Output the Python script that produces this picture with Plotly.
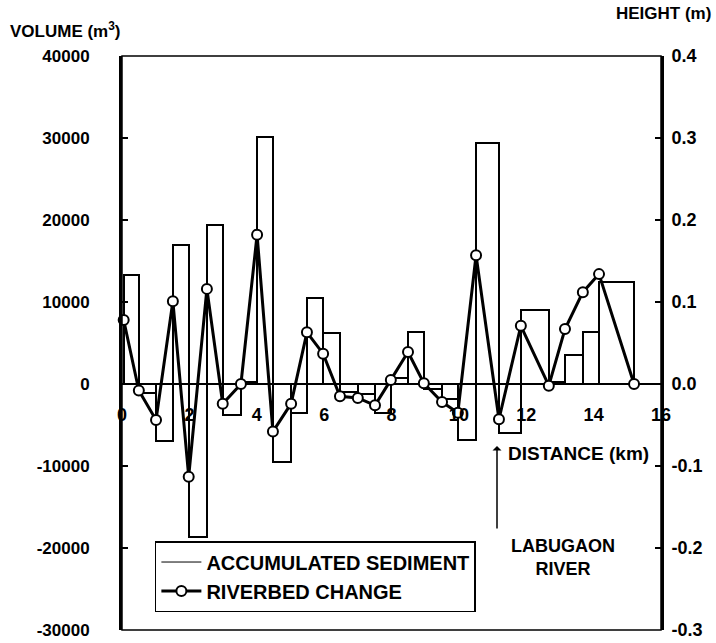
import plotly.graph_objects as go

# ---- data ----
distance_km = [0.05, 0.50, 1.01, 1.51, 1.98, 2.52, 2.99, 3.53, 4.01, 4.48, 5.02, 5.49,
               5.97, 6.47, 7.00, 7.51, 7.98, 8.49, 8.96, 9.50, 9.97, 10.51, 11.19,
               11.84, 12.67, 13.15, 13.68, 14.16, 15.20]
riverbed_change_m = [0.078, -0.008, -0.044, 0.101, -0.113, 0.116, -0.024, 0.0, 0.182,
                     -0.058, -0.024, 0.063, 0.037, -0.015, -0.017, -0.026, 0.005, 0.039,
                     0.001, -0.022, -0.035, 0.157, -0.043, 0.071, -0.002, 0.067, 0.112,
                     0.134, 0.0]
accumulated_sediment_m3 = [13300, -1100, -7000, 17000, -18600, 19400, -3800, 300, 30100,
                           -9500, -3500, 10500, 6200, -1000, -1200, -3500, 700, 6300,
                           -600, -1800, -6800, 29400, -6000, 9000, 200, 3500, 6300, 12400]

x_ticks = [0, 2, 4, 6, 8, 10, 12, 14, 16]
vol_ticks = [-30000, -20000, -10000, 0, 10000, 20000, 30000, 40000]
vol_labels = ["-30000", "-20000", "-10000", "0", "10000", "20000", "30000", "40000"]
h_ticks = [-0.3, -0.2, -0.1, 0.0, 0.1, 0.2, 0.3, 0.4]
h_labels = ["-0.3", "-0.2", "-0.1", "0.0", "0.1", "0.2", "0.3", "0.4"]

# bars span each segment between consecutive survey points
bar_x = [(a + b) / 2 for a, b in zip(distance_km[:-1], distance_km[1:])]
bar_w = [b - a for a, b in zip(distance_km[:-1], distance_km[1:])]

FONT = "Liberation Sans, Arial, sans-serif"

fig = go.Figure()
fig.add_trace(go.Bar(
    x=bar_x, y=accumulated_sediment_m3, width=bar_w,
    marker=dict(color="white", line=dict(color="black", width=2)),
    showlegend=False, yaxis="y"))
# legend entry (line symbol) for the sediment bars
fig.add_trace(go.Scatter(
    x=[None], y=[None], mode="lines", name="<b>ACCUMULATED SEDIMENT</b>",
    line=dict(color="black", width=1)))
fig.add_trace(go.Scatter(
    x=distance_km, y=riverbed_change_m, yaxis="y2", mode="lines+markers",
    name="<b>RIVERBED CHANGE</b>", cliponaxis=False,
    line=dict(color="black", width=3),
    marker=dict(symbol="circle", size=10, color="white",
                line=dict(color="black", width=2))))

zero_pos = 30000 / 70000

fig.update_layout(
    width=716, height=643,
    margin=dict(l=122, r=55, t=56, b=13, autoexpand=False),
    paper_bgcolor="white", plot_bgcolor="white",
    font=dict(family=FONT, size=17, color="black"),
    bargap=0,
    xaxis=dict(range=[0, 16], tickvals=x_ticks,
               ticktext=["<b>%d</b>" % t for t in x_ticks],
               anchor="free", position=zero_pos, showline=False, showgrid=False,
               zeroline=False, ticks="", ticklabelstandoff=18, automargin=False,
               tickfont=dict(size=18)),
    yaxis=dict(range=[-30000, 40000], tickvals=vol_ticks,
               ticktext=["<b>%s</b>" % s for s in vol_labels],
               showline=True, linecolor="black", linewidth=3, ticks="inside",
               ticklen=6, tickwidth=2, tickcolor="black", showgrid=False,
               zeroline=True, zerolinecolor="black", zerolinewidth=1.5,
               ticklabelstandoff=26, automargin=False,
               tickfont=dict(size=17)),
    yaxis2=dict(range=[-0.3, 0.4], tickvals=h_ticks,
                ticktext=["<b>%s</b>" % s for s in h_labels],
                overlaying="y", side="right", showline=True, linecolor="black",
                linewidth=3, ticks="inside", ticklen=6, tickwidth=2,
                tickcolor="black", showgrid=False, zeroline=False,
                ticklabelstandoff=4, automargin=False,
                tickfont=dict(size=18)),
    legend=dict(x=0.061, y=0.155, xanchor="left", yanchor="top",
                bgcolor="white", bordercolor="black", borderwidth=1.5,
                font=dict(size=20), tracegroupgap=0, itemwidth=40),
    shapes=[dict(type="rect", xref="paper", yref="paper", x0=0, x1=1, y0=0, y1=1,
                 line=dict(color="black", width=1.5), layer="above")],
    annotations=[
        dict(text="<b>VOLUME (m<sup>3</sup>)</b>", xref="paper", yref="paper",
             x=(65 - 122) / 539, y=(630 - 30) / 574, xanchor="center", yanchor="middle",
             showarrow=False, font=dict(size=17)),
        dict(text="<b>HEIGHT (m)</b>", xref="paper", yref="paper",
             x=(663 - 122) / 539, y=(630 - 14) / 574, xanchor="center", yanchor="middle",
             showarrow=False, font=dict(size=17)),
        dict(text="<b>DISTANCE (km)</b>", xref="paper", yref="paper",
             x=(506 - 122) / 539, y=(630 - 453) / 574, xanchor="left", yanchor="middle",
             showarrow=False, font=dict(size=19)),
        dict(text="", xref="paper", yref="paper", x=(497 - 122) / 539,
             y=(630 - 446) / 574, ax=0, ay=84, showarrow=True, arrowhead=1,
             arrowsize=1, arrowwidth=1.5, arrowcolor="black"),
        dict(text="<b>LABUGAON<br>RIVER</b>", xref="paper", yref="paper",
             x=(563 - 122) / 539, y=(630 - 557) / 574, xanchor="center",
             yanchor="middle", showarrow=False, font=dict(size=18)),
    ],
)

fig.write_html("out.html")
